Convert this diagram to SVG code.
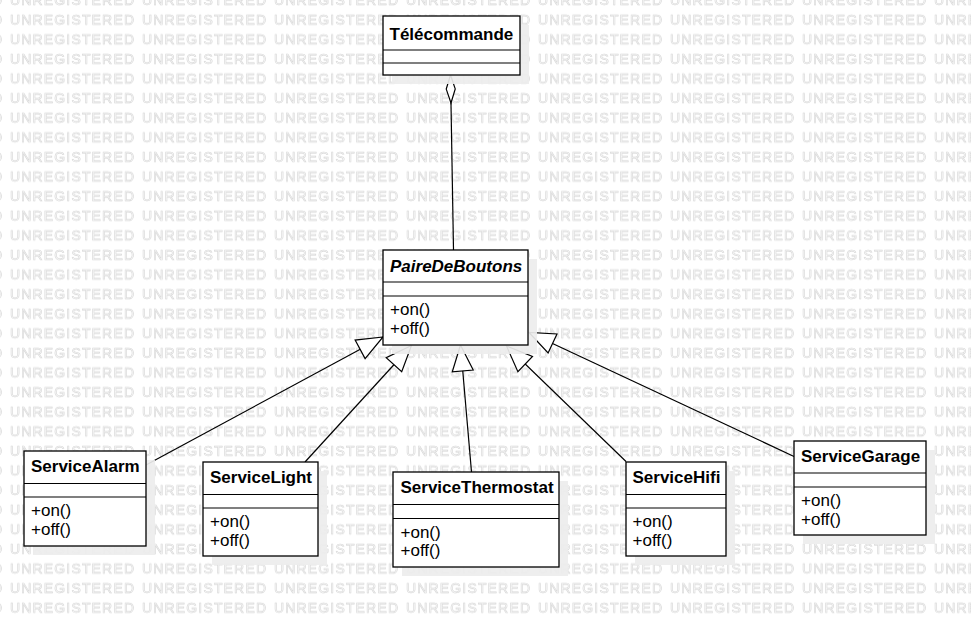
<svg xmlns="http://www.w3.org/2000/svg" width="971" height="618" viewBox="0 0 971 618">
<style>
  .wm { font-family: "Liberation Sans", Arial, sans-serif; font-size: 14px; fill: #ffffff; stroke: #d4d4d4; stroke-width: 0.6; }
  .box { fill: #ffffff; stroke: #000000; stroke-width: 1.3; }
  .shadow { fill: #ededed; fill-opacity: 0.92; }
  .div { stroke: #000000; stroke-width: 1.1; }
  .name { font-family: "Liberation Sans", Arial, sans-serif; font-size: 17px; font-weight: bold; fill: #000; }
  .abs { font-style: italic; }
  .op { font-family: "Liberation Sans", Arial, sans-serif; font-size: 17px; fill: #000; }
  .edge { fill: none; stroke: #000000; stroke-width: 1.2; }
</style>
<defs>
  <pattern id="wmp" patternUnits="userSpaceOnUse" x="9" y="8" width="132" height="19.6">
    <text class="wm" x="1" y="17" textLength="124" lengthAdjust="spacing">UNREGISTERED</text>
  </pattern>
  <marker id="gen" markerUnits="userSpaceOnUse" markerWidth="30" markerHeight="24" viewBox="0 0 30 24" refX="27" refY="12" orient="auto" overflow="visible">
    <path d="M27,12 L1,1.5 L1,22.5 Z" fill="#ffffff" stroke="#000000" stroke-width="1.2"/>
  </marker>
  <marker id="agg" markerUnits="userSpaceOnUse" markerWidth="30" markerHeight="12" viewBox="0 0 30 12" refX="1" refY="6" orient="auto" overflow="visible">
    <path d="M1,6 L15,1.5 L29,6 L15,10.5 Z" fill="#ffffff" stroke="#000000" stroke-width="1.2"/>
  </marker>
</defs>
<rect x="0" y="0" width="971" height="618" fill="#ffffff"/>
<rect x="0" y="0" width="971" height="618" fill="url(#wmp)"/>

<g id="connectors">
  <path class="edge" d="M450.5,75 L453.5,250" marker-start="url(#agg)"/>
  <path class="edge" d="M146,465 L383,337" marker-end="url(#gen)"/>
  <path class="edge" d="M305,462 L411.5,345.5" marker-end="url(#gen)"/>
  <path class="edge" d="M471.5,472 L460.5,345" marker-end="url(#gen)"/>
  <path class="edge" d="M626,461.5 L506.5,346" marker-end="url(#gen)"/>
  <path class="edge" d="M794,456.5 L529,332.5" marker-end="url(#gen)"/>
</g>

<g id="telecommande">
  <rect class="shadow" x="392" y="25" width="137" height="59"/>
  <rect class="box" x="383" y="16" width="137" height="59"/>
  <line class="div" x1="383" y1="50" x2="520" y2="50"/>
  <line class="div" x1="383" y1="63" x2="520" y2="63"/>
  <text class="name" x="389.5" y="39.5">Télécommande</text>
</g>

<g id="paireDeBoutons">
  <rect class="shadow" x="392" y="259" width="145" height="95"/>
  <rect class="box" x="383" y="250" width="145" height="95"/>
  <line class="div" x1="383" y1="282" x2="528" y2="282"/>
  <line class="div" x1="383" y1="296" x2="528" y2="296"/>
  <text class="name abs" x="390" y="272">PaireDeBoutons</text>
  <text class="op" x="390" y="315">+on()</text>
  <text class="op" x="390" y="334">+off()</text>
</g>

<g id="serviceAlarm">
  <rect class="shadow" x="33" y="460" width="122" height="95"/>
  <rect class="box" x="24" y="451" width="122" height="95"/>
  <line class="div" x1="24" y1="483.5" x2="146" y2="483.5"/>
  <line class="div" x1="24" y1="497" x2="146" y2="497"/>
  <text class="name" x="31" y="472">ServiceAlarm</text>
  <text class="op" x="31" y="516">+on()</text>
  <text class="op" x="31" y="534.5">+off()</text>
</g>

<g id="serviceLight">
  <rect class="shadow" x="212" y="471" width="115" height="94"/>
  <rect class="box" x="203" y="462" width="115" height="94"/>
  <line class="div" x1="203" y1="494.5" x2="318" y2="494.5"/>
  <line class="div" x1="203" y1="508" x2="318" y2="508"/>
  <text class="name" x="210" y="483">ServiceLight</text>
  <text class="op" x="210" y="527">+on()</text>
  <text class="op" x="210" y="545.5">+off()</text>
</g>

<g id="serviceThermostat">
  <rect class="shadow" x="402" y="481" width="166" height="95"/>
  <rect class="box" x="393" y="472" width="166" height="95"/>
  <line class="div" x1="393" y1="504.5" x2="559" y2="504.5"/>
  <line class="div" x1="393" y1="518.5" x2="559" y2="518.5"/>
  <text class="name" x="400.5" y="493">ServiceThermostat</text>
  <text class="op" x="400.5" y="537.5">+on()</text>
  <text class="op" x="400.5" y="556">+off()</text>
</g>

<g id="serviceHifi">
  <rect class="shadow" x="635" y="471" width="100" height="94"/>
  <rect class="box" x="626" y="462" width="100" height="94"/>
  <line class="div" x1="626" y1="494.5" x2="726" y2="494.5"/>
  <line class="div" x1="626" y1="508" x2="726" y2="508"/>
  <text class="name" x="632.5" y="483">ServiceHifi</text>
  <text class="op" x="632.5" y="527">+on()</text>
  <text class="op" x="632.5" y="545.5">+off()</text>
</g>

<g id="serviceGarage">
  <rect class="shadow" x="803" y="450" width="132" height="94"/>
  <rect class="box" x="794" y="441" width="132" height="94"/>
  <line class="div" x1="794" y1="473" x2="926" y2="473"/>
  <line class="div" x1="794" y1="487" x2="926" y2="487"/>
  <text class="name" x="801" y="462">ServiceGarage</text>
  <text class="op" x="801" y="506">+on()</text>
  <text class="op" x="801" y="524.5">+off()</text>
</g>
</svg>
